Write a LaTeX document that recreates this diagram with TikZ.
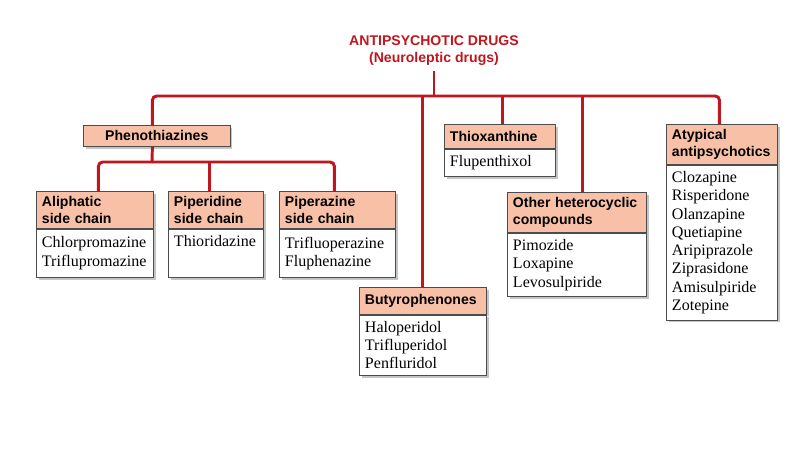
\documentclass[tikz,border=0pt]{standalone}
\usepackage{fontspec}
\setmainfont{Liberation Serif}
\setsansfont{Liberation Sans}
\usepackage{xcolor}
\usepackage{tikz}
\usetikzlibrary{positioning,shadows}
\definecolor{drugred}{RGB}{192,22,30}
\definecolor{hdrfill}{RGB}{249,192,168}
\hyphenpenalty=10000
\exhyphenpenalty=10000

\begin{document}
\begin{tikzpicture}[x=0.025cm,y=-0.025cm,
		link/.style={drugred,line width=2.1pt,rounded corners=3pt},
		hdr/.style={draw=black!70,line width=0.5pt,fill=hdrfill,anchor=north west,
			font=\sffamily\bfseries\fontsize{10}{12.5}\selectfont,align=left,
			text width=#1,inner xsep=4pt,inner ysep=3.3pt,minimum height=0.6cm,
			drop shadow={shadow xshift=1.6pt,shadow yshift=-1.6pt,fill=black!45}},
		lst/.style={draw=black!70,line width=0.5pt,fill=white,
			font=\fontsize{11.4}{13}\selectfont,align=left,
			text width=#1,inner xsep=4pt,inner ysep=4.5pt,
			drop shadow={shadow xshift=1.6pt,shadow yshift=-1.6pt,fill=black!45}}]
	\useasboundingbox[fill=white] (0,0) rectangle (800,450);

	% Title
	\node[drugred,font=\sffamily\bfseries\fontsize{10}{12}\selectfont,align=center] (title) at (434,51) {ANTIPSYCHOTIC DRUGS\\(Neuroleptic drugs)};
	\coordinate (top) at (434,96);
	\coordinate (sub) at (152,162);

	% Phenothiazines and its side chains
	\node[hdr=3.39cm,align=center,minimum height=0.525cm] (pheno) at (83,125) {Phenothiazines};

	\node[hdr=2.643cm] (aliH) at (36,191) {Aliphatic\\side chain};
	\node[lst=2.643cm,minimum height=1.2cm,below=0pt of aliH] (aliL) {Chlorpromazine\\Triflupromazine};

	\node[hdr=2.093cm] (pidH) at (168,191) {Piperidine\\side chain};
	\node[lst=2.093cm,minimum height=1.2cm,below=0pt of pidH] (pidL) {Thioridazine\\\strut};

	\node[hdr=2.618cm] (pzH) at (279,191) {Piperazine\\side chain};
	\node[lst=2.618cm,minimum height=1.2cm,below=0pt of pzH] (pzL) {Trifluoperazine\\Fluphenazine};

	% Other classes
	\node[hdr=2.893cm,minimum height=0.67cm] (butH) at (359,287) {Butyrophenones};
	\node[lst=2.893cm,below=0pt of butH] (butL) {Haloperidol\\Trifluperidol\\Penfluridol};

	\node[hdr=2.493cm] (thioH) at (444,124) {Thioxanthine};
	\node[lst=2.493cm,below=0pt of thioH] (thioL) {Flupenthixol};

	\node[hdr=3.193cm] (othH) at (507,192) {Other heterocyclic\\compounds};
	\node[lst=3.193cm,below=0pt of othH] (othL) {Pimozide\\Loxapine\\Levosulpiride};

	\node[hdr=2.493cm] (atyH) at (666,124) {Atypical\\antipsychotics};
	\node[lst=2.493cm,below=0pt of atyH] (atyL) {Clozapine\\Risperidone\\Olanzapine\\Quetiapine\\Aripiprazole\\Ziprasidone\\Amisulpiride\\Zotepine};

	% Tree lines
	\draw[link] (title.south) -- (top);
	\draw[link] ([xshift=-0.11cm]pheno.north) |- (top) -| ([xshift=-0.06cm]atyH.north);
	\draw[link] (butH.north) -- (butH.north |- top);
	\draw[link] ([xshift=0.06cm]thioH.north) -- ([xshift=0.06cm]thioH.north |- top);
	\draw[link] ([xshift=0.14cm]othH.north) -- ([xshift=0.14cm]othH.north |- top);

	\draw[link] ([xshift=-0.11cm]pheno.south) -- (sub);
	\draw[link] ([xshift=0.09cm]aliH.north) |- (sub) -| ([xshift=-0.075cm]pzH.north);
	\draw[link] ([xshift=-0.16cm]pidH.north) -- ([xshift=-0.16cm]pidH.north |- sub);
\end{tikzpicture}
\end{document}
